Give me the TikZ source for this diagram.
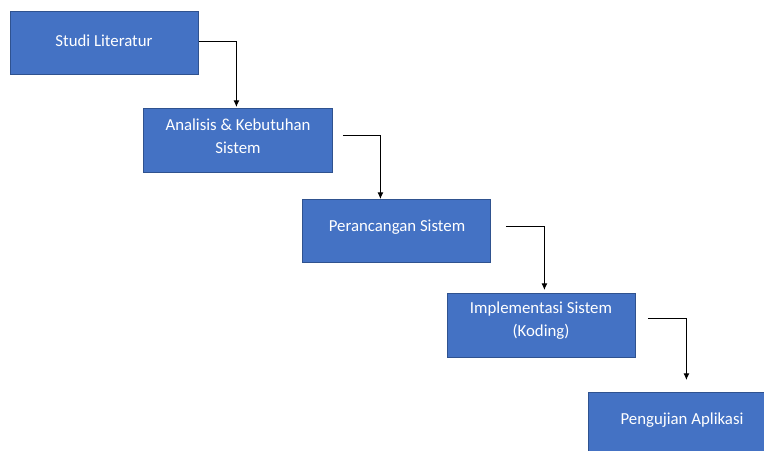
\documentclass[tikz,border=0pt]{standalone}
\usepackage{fontspec}
\setmainfont{Carlito}
\usetikzlibrary{arrows.meta,calc}
\definecolor{boxfill}{HTML}{4472C4}
\definecolor{boxline}{HTML}{2F528F}
\begin{document}
\begin{tikzpicture}[x=0.75pt,y=-0.75pt,
  box/.style={draw=boxline,line width=0.6pt,fill=boxfill,rectangle,inner sep=0pt},
  lbl/.style={text=white,align=center,font=\fontsize{12.6}{17.2}\selectfont,inner sep=0pt},
  arr/.style={draw=black,line width=0.75pt,-{Latex[length=5pt,width=4.5pt]}}]
\useasboundingbox (0,0) rectangle (764,450);
\fill[white] (0,0) rectangle (764,450);
\node[box,minimum width=188*0.75pt,minimum height=63*0.75pt,anchor=north west] (b1) at (10,11) {};
\node[box,minimum width=189*0.75pt,minimum height=64*0.75pt,anchor=north west] (b2) at (143,108) {};
\node[box,minimum width=188*0.75pt,minimum height=63*0.75pt,anchor=north west] (b3) at (302,199) {};
\node[box,minimum width=188*0.75pt,minimum height=64*0.75pt,anchor=north west] (b4) at (447,293) {};
\node[box,minimum width=178*0.75pt,minimum height=60*0.75pt,anchor=north west] (b5) at (588,392) {};
\node[lbl] (t1) at (104,41) {Studi Literatur};
\node[lbl] (t2) at (238,136) {Analisis \& Kebutuhan\\Sistem};
\node[lbl] (t3) at (397,227) {Perancangan Sistem};
\node[lbl] (t4) at (541,321) {Implementasi Sistem\\(Koding)};
\node[lbl] (t5) at (682,420) {Pengujian Aplikasi};
\draw[arr] ($(b1.east)+(0,-1.5)$) -| ($(b2.north)+(-1.5,-1)$);
\draw[arr] ($(b2.east)+(10,-5)$) -| ($(b3.north)+(-16,0)$);
\draw[arr] ($(b3.east)+(15,-4.5)$) -| ($(b4.north)+(3,-3)$);
\draw[arr] ($(b4.east)+(12,-7)$) -| ($(b5.north)+(9,-12)$);
\end{tikzpicture}
\end{document}
